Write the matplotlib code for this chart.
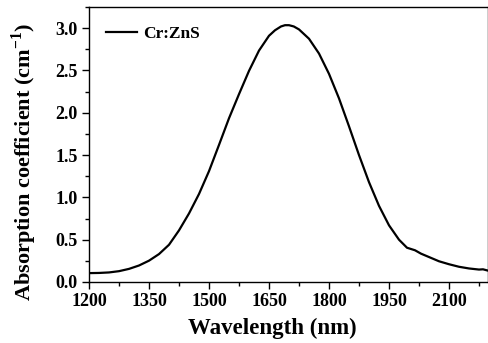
import matplotlib
matplotlib.use("Agg")
import matplotlib.pyplot as plt
from matplotlib.ticker import MultipleLocator

plt.rcParams["font.family"] = ["Liberation Serif", "DejaVu Serif"]
plt.rcParams["font.weight"] = "bold"
plt.rcParams["mathtext.fontset"] = "custom"
plt.rcParams["mathtext.rm"] = "Liberation Serif:bold"
plt.rcParams["mathtext.bf"] = "Liberation Serif:bold"

# Cr:ZnS absorption spectrum
wavelength = [1200, 1225, 1250, 1275, 1300, 1325, 1350, 1375, 1400, 1425,
              1450, 1475, 1500, 1525, 1550, 1575, 1600, 1625, 1650, 1665,
              1680, 1690, 1700, 1712, 1725, 1750, 1775, 1800, 1825, 1850,
              1875, 1900, 1925, 1950, 1975, 1995, 2005, 2015, 2030, 2050,
              2075, 2100, 2125, 2150, 2175, 2185, 2197]
absorption = [0.105, 0.107, 0.113, 0.128, 0.155, 0.195, 0.252, 0.330, 0.440, 0.610,
              0.810, 1.040, 1.310, 1.620, 1.935, 2.220, 2.495, 2.735, 2.910, 2.975,
              3.020, 3.035, 3.035, 3.020, 2.985, 2.875, 2.700, 2.460, 2.170, 1.840,
              1.500, 1.180, 0.900, 0.670, 0.500, 0.405, 0.390, 0.375, 0.335, 0.295,
              0.245, 0.210, 0.180, 0.160, 0.147, 0.150, 0.135]

fig = plt.figure(figsize=(4.89, 3.43), dpi=100)
ax = fig.add_axes([89 / 489, 1 - 282 / 343, 399 / 489, 275 / 343])

ax.plot(wavelength, absorption, color="black", lw=1.6, label="Cr:ZnS")

ax.set_xlim(1200, 2197.5)
ax.set_ylim(0, 3.25)
ax.xaxis.set_major_locator(MultipleLocator(150))
ax.xaxis.set_minor_locator(MultipleLocator(75))
ax.yaxis.set_major_locator(MultipleLocator(0.5))
ax.yaxis.set_minor_locator(MultipleLocator(0.25))
ax.tick_params(which="major", direction="out", length=5, width=1, labelsize=13, pad=3)
ax.tick_params(which="minor", direction="out", length=3, width=1)
for lbl in ax.get_xticklabels() + ax.get_yticklabels():
    lbl.set_fontweight("bold")
for sp in ax.spines.values():
    sp.set_linewidth(1)

ax.set_xlabel("Wavelength (nm)", fontsize=16.5, fontweight="bold")
ax.set_ylabel(r"Absorption coefficient (cm$^{\mathbf{-1}}$)", fontsize=16, fontweight="bold")
ax.xaxis.set_label_coords(0.46, -0.13)
ax.yaxis.set_label_coords(-0.125, 0.436)

ax.legend(loc="upper left", bbox_to_anchor=(0.043, 0.93), frameon=False,
          borderpad=0, borderaxespad=0, handlelength=1.8, handletextpad=0.35,
          prop={"size": 12.5, "weight": "bold"})

fig.savefig("out.png", dpi=100)
